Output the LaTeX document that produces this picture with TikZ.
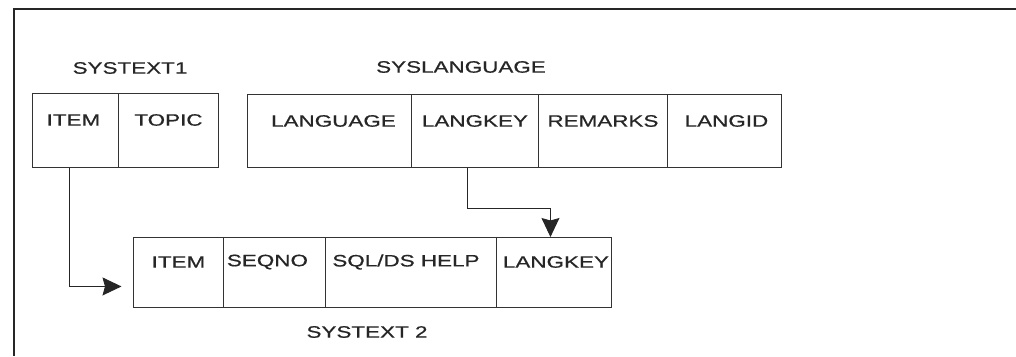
\documentclass[tikz,border=0pt]{standalone}
\usepackage{fontspec}
\newfontfamily\labfont[FakeStretch=1.36,FakeBold=0.6]{Liberation Sans}
\usetikzlibrary{arrows.meta,calc}
\begin{document}
\begin{tikzpicture}[x=1pt,y=1pt,
  cell/.style={draw=black!80, line width=0.9pt, anchor=north west, inner sep=0pt},
  lab/.style={font=\labfont\fontsize{16.5}{19}\selectfont, inner sep=0pt, text=black!85},
  conn/.style={draw=black!85, line width=0.9pt, -{Stealth[length=19pt,width=18pt,inset=2.5pt]}}]
\useasboundingbox (0,0) rectangle (1016,-356);
% frame
\draw[black!85, line width=1.6pt] (1016,-9) -- (14,-9) -- (14,-356);
% SYSTEXT1
\node[lab] (t1) at (130,-68) {SYSTEXT1};
\node[cell, minimum width=86, minimum height=74] (a1) at (32,-93) {};
\node[cell, minimum width=100, minimum height=74] (a2) at (118,-93) {};
\node[lab] (a1l) at ($(a1.north)+(-2,-27)$) {ITEM};
\node[lab] (a2l) at ($(a2.north)+(0,-27)$) {TOPIC};
% SYSLANGUAGE
\node[lab] (t2) at (461,-67) {SYSLANGUAGE};
\node[cell, minimum width=164, minimum height=73] (b1) at (247,-94) {};
\node[cell, minimum width=127, minimum height=73] (b2) at (411,-94) {};
\node[cell, minimum width=129, minimum height=73] (b3) at (538,-94) {};
\node[cell, minimum width=114, minimum height=73] (b4) at (667,-94) {};
\node[lab] (b1l) at ($(b1.north)+(4,-27)$) {LANGUAGE};
\node[lab] (b2l) at ($(b2.north)+(0,-27)$) {LANGKEY};
\node[lab] (b3l) at ($(b3.north)+(0,-27)$) {REMARKS};
\node[lab] (b4l) at ($(b4.north)+(2,-27)$) {LANGID};
% SYSTEXT 2
\node[cell, minimum width=90, minimum height=70] (c1) at (133,-237) {};
\node[cell, minimum width=102, minimum height=70] (c2) at (223,-237) {};
\node[cell, minimum width=171, minimum height=70] (c3) at (325,-237) {};
\node[cell, minimum width=115, minimum height=70] (c4) at (496,-237) {};
\node[lab] (c1l) at ($(c1.north)+(0,-25)$) {ITEM};
\node[lab] (c2l) at ($(c2.north)+(-7,-25)$) {SEQNO};
\node[lab] (c3l) at ($(c3.north)+(-5,-25)$) {SQL/DS HELP};
\node[lab] (c4l) at ($(c4.north)+(2,-25)$) {LANGKEY};
\node[lab] (t3) at (367,-332) {SYSTEXT 2};
% connectors
\coordinate (p1) at ($(a1.south)+(-6,0)$);
\coordinate (p1e) at ($(c1.west)+(-11.5,-14)$);
\draw[conn] (p1) |- (p1e);
\coordinate (p2) at ($(b2.south)+(-8,0)$);
\coordinate (p2b) at ($(p2)+(0,-41)$);
\coordinate (p2e) at ($(c4.north)+(-3.5,0)$);
\draw[conn] (p2) -- (p2b) -| (p2e);
\end{tikzpicture}
\end{document}
